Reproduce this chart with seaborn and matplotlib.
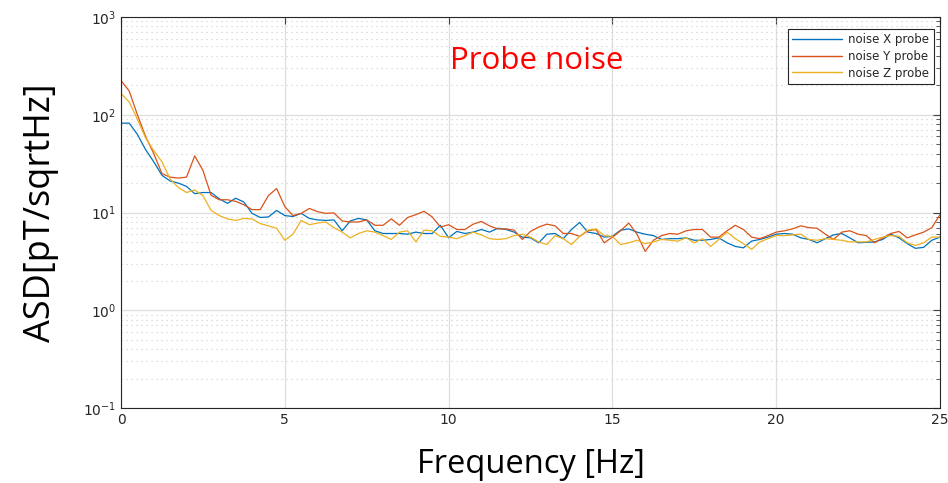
import numpy as np
import pandas as pd
import matplotlib
matplotlib.use("Agg")
import matplotlib.pyplot as plt
from matplotlib.ticker import LogLocator
import seaborn as sns

# frequency grid of the spectra (Hz)
freq = np.arange(0, 25.25, 0.25)

noise_x = [82, 82, 63, 44, 33, 24, 21, 20, 18.5, 15.6, 16, 16, 13.8, 12.4, 14, 12.8,
           9.8, 8.9, 9.0, 10.5, 9.3, 9.1, 9.8, 8.7, 8.4, 8.3, 8.4, 6.5, 8.2, 8.7, 8.4, 6.5,
           6.1, 6.1, 6.1, 6.0, 6.3, 6.1, 6.1, 7.4, 5.5, 6.4, 6.1, 6.3, 6.7, 6.3, 6.9, 6.7,
           6.3, 5.6, 5.5, 4.9, 6.0, 6.1, 5.4, 6.7, 7.9, 6.3, 6.1, 5.6, 5.7, 6.6, 6.8, 6.3,
           6.0, 5.8, 5.3, 5.4, 5.4, 5.5, 5.2, 5.2, 5.3, 5.5, 4.9, 4.5, 4.35, 5.1, 5.3, 5.6,
           6.0, 6.1, 6.0, 5.5, 5.3, 4.9, 5.4, 5.9, 6.1, 5.5, 4.9, 4.95, 5.0, 5.3, 6.0, 5.5,
           4.8, 4.3, 4.4, 5.2, 5.6]

noise_y = [224, 175, 100, 60, 40, 25, 23, 22.5, 23, 38, 27, 15, 13.5, 13.5, 13, 12,
           10.7, 10.7, 14.9, 17.6, 11.5, 9.3, 9.8, 11, 10.2, 9.8, 9.9, 8.2, 8.0, 8.0, 8.4, 7.4,
           7.4, 8.6, 7.4, 8.9, 9.5, 10.3, 9.0, 7.1, 7.5, 6.7, 6.7, 7.6, 8.1, 7.3, 6.8, 6.8,
           6.6, 5.3, 6.4, 7.1, 7.6, 7.3, 6.1, 6.1, 5.7, 6.5, 6.7, 4.9, 5.6, 6.5, 7.8, 6.0,
           4.0, 5.2, 5.8, 6.1, 6.0, 6.5, 6.7, 6.7, 5.6, 5.6, 6.5, 7.4, 6.7, 5.6, 5.4, 5.8,
           6.3, 6.5, 6.8, 7.3, 7.0, 6.9, 6.0, 5.3, 6.3, 6.5, 6.0, 5.8, 4.9, 5.5, 6.1, 6.4,
           5.5, 5.9, 6.3, 7.0, 9.5]

noise_z = [165, 135, 90, 58, 43, 33, 22, 18, 16, 17, 14.9, 10.5, 9.3, 8.6, 8.3, 8.7,
           8.6, 7.7, 7.3, 6.9, 5.2, 6.0, 8.3, 7.5, 7.8, 8.0, 7.0, 6.3, 5.5, 6.1, 6.5, 6.3,
           5.8, 5.3, 6.3, 6.5, 5.0, 6.6, 6.5, 5.7, 5.6, 5.4, 5.8, 6.3, 5.9, 5.4, 5.3, 5.4,
           5.8, 6.0, 5.6, 5.0, 4.7, 5.8, 5.4, 4.7, 5.7, 6.6, 6.8, 5.8, 5.7, 4.7, 4.9, 5.2,
           4.8, 5.0, 5.3, 5.2, 5.1, 5.5, 4.9, 5.4, 4.5, 5.3, 6.3, 5.4, 4.8, 4.2, 5.0, 5.4,
           5.8, 5.8, 5.9, 6.0, 5.3, 5.2, 5.4, 5.3, 5.2, 5.0, 5.0, 5.0, 5.3, 5.6, 5.8, 5.7,
           4.9, 4.6, 4.9, 5.6, 5.6]

series_names = ["noise X probe", "noise Y probe", "noise Z probe"]
colors = ["#0072BD", "#D95319", "#EDB120"]

# long-form table for seaborn
df = pd.concat([
    pd.DataFrame({"freq": freq, "asd": vals, "series": name})
    for name, vals in zip(series_names, [noise_x, noise_y, noise_z])
])

sns.set_style("white")
plt.rcParams['font.family'] = ['DejaVu Sans']

fig = plt.figure(figsize=(9.48, 4.83), dpi=100)
ax = fig.add_axes([121/948, 1 - 408/483, (940 - 121)/948, (408 - 17)/483])

sns.lineplot(data=df, x="freq", y="asd", hue="series", palette=colors,
             linewidth=0.9, ax=ax)

ax.set_yscale("log")
ax.set_xlim(0, 25)
ax.set_ylim(0.1, 1000)
ax.set_xticks([0, 5, 10, 15, 20, 25])
ax.set_yticks([0.1, 1, 10, 100, 1000])
ax.set_yticklabels([r"$10^{-1}$", r"$10^{0}$", r"$10^{1}$", r"$10^{2}$", r"$10^{3}$"])
ax.yaxis.set_minor_locator(LogLocator(base=10, subs=np.arange(2, 10)))
ax.yaxis.set_minor_formatter(plt.NullFormatter())

ax.grid(True, which="major", color="#dedede", linewidth=0.9, linestyle="-")
ax.grid(True, which="minor", axis="y", color="#cccccc", linewidth=0.8, linestyle=(0, (1, 3.5)))
ax.set_axisbelow(True)

ax.tick_params(axis="both", which="both", direction="in", top=True, right=True,
               colors="#404040", labelcolor="#262626", labelsize=10)
ax.tick_params(which="major", length=5, width=0.8)
ax.tick_params(which="minor", length=3, width=0.6)
for sp in ax.spines.values():
    sp.set_color("#262626")
    sp.set_linewidth(0.8)

ax.set_xlabel("Frequency [Hz]", fontsize=23.5, color="black",
              family=["Open Sans", "DejaVu Sans"], labelpad=15)
ax.set_ylabel("ASD[pT/sqrtHz]", fontsize=26, color="black",
              family=["Open Sans", "DejaVu Sans"], labelpad=17)

ax.text(0.508, 0.887, "Probe noise", transform=ax.transAxes, color="red",
        fontsize=22.5, family=["Open Sans", "DejaVu Sans"], ha="center", va="center")

leg = ax.legend(loc="upper right", fontsize=8.5, frameon=True, fancybox=False,
                edgecolor="#262626", framealpha=1, borderpad=0.4,
                handlelength=4.2, handletextpad=0.5, labelspacing=0.3,
                bbox_to_anchor=(0.9995, 0.985))
leg.get_frame().set_linewidth(0.8)
for line in leg.get_lines():
    line.set_linewidth(1.0)

fig.savefig("out.png", dpi=100)
